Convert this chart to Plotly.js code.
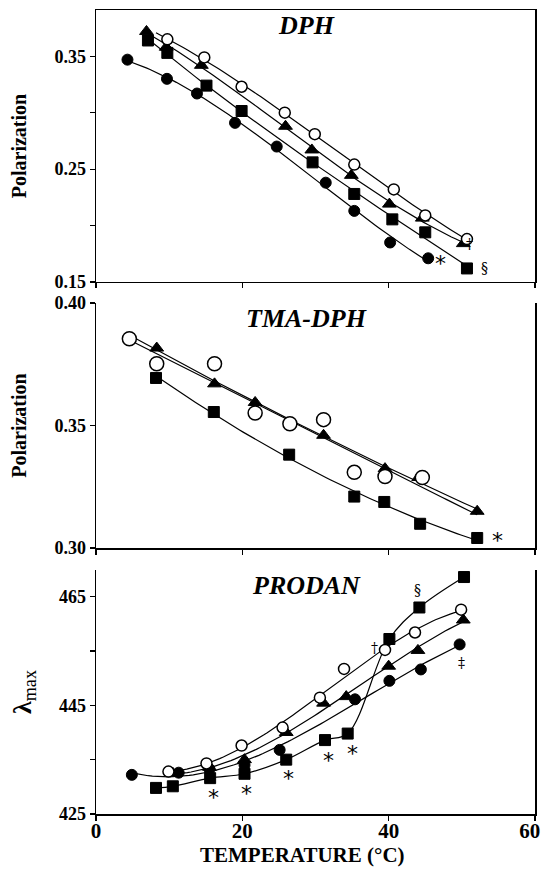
<!DOCTYPE html>
<html>
<head>
<meta charset="utf-8">
<script src="https://cdn.plot.ly/plotly-3.0.1.min.js"></script>
<style>html,body{margin:0;padding:0;background:#fff;}</style>
</head>
<body>
<div id="chart" style="width:543px;height:869px;"></div>
<script>
// ---------- DPH panel (polarization) ----------
const dphCircleX = [4.3, 9.7, 13.8, 19.0, 24.7, 31.4, 35.3, 40.2, 45.4];
const dphCircleY = [0.347, 0.330, 0.317, 0.291, 0.270, 0.238, 0.213, 0.185, 0.171];
const dphOpenX = [9.75, 14.8, 19.9, 25.8, 29.9, 35.3, 40.7, 45.0, 50.7];
const dphOpenY = [0.365, 0.349, 0.323, 0.300, 0.281, 0.254, 0.232, 0.209, 0.188];
const dphTriX = [6.9, 9.6, 14.4, 25.9, 29.5, 34.9, 40.1, 44.6, 50.2];
const dphTriY = [0.372, 0.358, 0.342, 0.288, 0.267, 0.2445, 0.219, 0.2066, 0.184];
const dphSqX = [7.1, 9.75, 15.1, 19.9, 29.6, 35.3, 40.5, 45.0, 50.7];
const dphSqY = [0.364, 0.353, 0.324, 0.3015, 0.256, 0.228, 0.2055, 0.194, 0.162];

// ---------- TMA-DPH panel (polarization) ----------
const tmaOpenX = [4.56, 8.3, 16.2, 21.75, 26.5, 31.1, 35.3, 39.5, 44.6];
const tmaOpenY = [0.3854, 0.3752, 0.3752, 0.3551, 0.3507, 0.3524, 0.3309, 0.3292, 0.3288];
const tmaTriX = [8.3, 16.2, 21.75, 31.1, 39.5, 44.1, 52.1];
const tmaTriY = [0.3816, 0.367, 0.3594, 0.346, 0.3324, 0.3288, 0.315];
const tmaSqX = [8.2, 16.1, 26.4, 35.3, 39.4, 44.3, 52.1];
const tmaSqY = [0.3694, 0.3555, 0.3381, 0.321, 0.3188, 0.3099, 0.3041];
const tmaFitEnd = 52.1;

// ---------- PRODAN panel (lambda max) ----------
const proCircleX = [4.9, 11.3, 15.5, 20.3, 25.1, 35.4, 40.1, 44.4, 49.7];
const proCircleY = [432.2, 432.6, 433.3, 434.0, 436.8, 446.1, 449.5, 451.6, 456.2];
const proOpenX = [9.9, 15.1, 19.9, 25.5, 30.6, 33.9, 39.5, 43.6, 49.9];
const proOpenY = [432.8, 434.3, 437.6, 440.9, 446.4, 451.7, 455.2, 458.4, 462.6];
const proTriX = [10.5, 15.5, 20.3, 26.0, 31.1, 34.2, 40.0, 44.0, 50.2];
const proTriY = [432.5, 433.6, 435.0, 440.0, 445.4, 446.6, 452.2, 455.1, 460.7];
const proSqX = [8.2, 10.5, 15.6, 20.3, 26.0, 31.3, 34.4, 40.1, 44.2, 50.3];
const proSqY = [429.8, 430.1, 431.6, 432.4, 435.0, 438.6, 439.8, 457.2, 463.0, 468.6];

// ---------- significance marks ----------
const dphMarkText = ['*', '\u2020', '\u00a7'];
const dphMarkX = [47.1, 51.0, 53.1];
const dphMarkY = [0.166, 0.184, 0.162];
const tmaMarkText = ['*'];
const tmaMarkX = [54.9];
const tmaMarkY = [0.3032];
const proMarkText = ['*', '*', '*', '*', '*', '\u2020', '\u00a7', '\u00a7', '\u2021'];
const proMarkX = [16.0, 20.6, 26.3, 31.8, 35.0, 38.1, 43.9, 50.2, 49.9];
const proMarkY = [428.0, 428.7, 431.5, 434.8, 436.2, 455.6, 466.3, 470.8, 452.7];

const panelTitles = ['DPH', 'TMA-DPH', 'PRODAN'];
const xTickVals = [0, 20, 40, 60];
const xTickText = ['0', '20', '40', '60\u00a0\u00a0'];
const xTitle = 'TEMPERATURE (°C)';

// ---------- helpers ----------
function polyfit(xs, ys, deg) {
  const n = deg + 1;
  const A = [], b = [];
  for (let i = 0; i < n; i++) { A.push(new Array(n).fill(0)); b.push(0); }
  for (let k = 0; k < xs.length; k++) {
    for (let i = 0; i < n; i++) {
      b[i] += ys[k] * Math.pow(xs[k], i);
      for (let j = 0; j < n; j++) A[i][j] += Math.pow(xs[k], i + j);
    }
  }
  for (let c = 0; c < n; c++) {
    let p = c;
    for (let r = c + 1; r < n; r++) if (Math.abs(A[r][c]) > Math.abs(A[p][c])) p = r;
    [A[c], A[p]] = [A[p], A[c]]; [b[c], b[p]] = [b[p], b[c]];
    for (let r = c + 1; r < n; r++) {
      const f = A[r][c] / A[c][c];
      for (let j = c; j < n; j++) A[r][j] -= f * A[c][j];
      b[r] -= f * b[c];
    }
  }
  const coef = new Array(n).fill(0);
  for (let i = n - 1; i >= 0; i--) {
    let s = b[i];
    for (let j = i + 1; j < n; j++) s -= A[i][j] * coef[j];
    coef[i] = s / A[i][i];
  }
  return coef;
}
function fitLine(xs, ys, deg, x0, x1) {
  const c = polyfit(xs, ys, deg);
  const fx = [], fy = [];
  const N = 80;
  for (let i = 0; i <= N; i++) {
    const x = x0 + (x1 - x0) * i / N;
    let y = 0;
    for (let k = 0; k < c.length; k++) y += c[k] * Math.pow(x, k);
    fx.push(x); fy.push(y);
  }
  return {fx, fy};
}

const styles = {
  circle: {symbol: 'circle', size: 11, color: 'black', line: {color: 'black', width: 1}},
  open: {symbol: 'circle', size: 11, color: 'white', line: {color: 'black', width: 1.5}},
  tri: {symbol: 'triangle-up', size: 12, color: 'black', line: {color: 'black', width: 1}},
  sq: {symbol: 'square', size: 11, color: 'black', line: {color: 'black', width: 1}}
};

const traces = [];
const lineTraces = [];
const markerTraces = [];
function addSeries(xs, ys, style, xa, ya, deg, x0, x1, spline, sizeOverride) {
  if (spline) {
    lineTraces.push({x: xs, y: ys, xaxis: xa, yaxis: ya, mode: 'lines', type: 'scatter',
      line: {color: 'black', width: 1.2, shape: 'spline', smoothing: 1}, hoverinfo: 'skip'});
  } else {
    const f = fitLine(xs, ys, deg, x0 !== undefined ? x0 : Math.min(...xs), x1 !== undefined ? x1 : Math.max(...xs));
    lineTraces.push({x: f.fx, y: f.fy, xaxis: xa, yaxis: ya, mode: 'lines', type: 'scatter',
      line: {color: 'black', width: 1.2}, hoverinfo: 'skip'});
  }
  const m = JSON.parse(JSON.stringify(styles[style]));
  if (sizeOverride) m.size = sizeOverride;
  markerTraces.push({x: xs, y: ys, xaxis: xa, yaxis: ya, mode: 'markers', type: 'scatter', marker: m, cliponaxis: false});
}

// DPH
addSeries(dphCircleX, dphCircleY, 'circle', 'x', 'y', 3);
addSeries(dphSqX, dphSqY, 'sq', 'x', 'y', 3);
addSeries(dphTriX, dphTriY, 'tri', 'x', 'y', 3);
addSeries(dphOpenX, dphOpenY, 'open', 'x', 'y', 3, 8.2);
// TMA-DPH
addSeries(tmaSqX, tmaSqY, 'sq', 'x2', 'y2', 2, undefined, 51.5);
addSeries(tmaTriX, tmaTriY, 'tri', 'x2', 'y2', 2, 4.6, tmaFitEnd);
addSeries(tmaOpenX, tmaOpenY, 'open', 'x2', 'y2', 2, undefined, tmaFitEnd, false, 14);
// PRODAN
addSeries(proCircleX, proCircleY, 'circle', 'x3', 'y3', 3);
addSeries(proSqX, proSqY, 'sq', 'x3', 'y3', 0, undefined, undefined, true);
addSeries(proTriX, proTriY, 'tri', 'x3', 'y3', 3);
addSeries(proOpenX, proOpenY, 'open', 'x3', 'y3', 3);

traces.push(...lineTraces, ...markerTraces);

const B = s => s === '' ? '' : '<b>' + s + '</b>';
const tickFont = {family: 'Liberation Serif', size: 18, color: 'black', weight: 700};
const annotations = [];
function addMarks(txt, xs, ys, xr, yr) {
  for (let i = 0; i < txt.length; i++) {
    const star = txt[i] === '*';
    annotations.push({x: xs[i], y: ys[i], xref: xr, yref: yr, text: txt[i], showarrow: false,
      font: star ? {family: 'DejaVu Sans', size: 22, color: '#000000'} : {family: 'DejaVu Serif', size: 14, color: '#000000'}});
  }
}
addMarks(dphMarkText, dphMarkX, dphMarkY, 'x', 'y');
addMarks(tmaMarkText, tmaMarkX, tmaMarkY, 'x2', 'y2');
addMarks(proMarkText, proMarkX, proMarkY, 'x3', 'y3');

const titleAnchorsY = ['y domain', 'y2 domain', 'y3 domain'];
const titleAnchorsX = ['x', 'x2', 'x3'];
panelTitles.forEach((t, i) => {
  annotations.push({x: 28.8, y: 1, xref: titleAnchorsX[i], yref: titleAnchorsY[i], yanchor: 'top', yshift: 1,
    text: '<b><i>' + t + '</i></b>', showarrow: false,
    font: {family: 'Liberation Serif', size: 26, color: 'black'}});
});
// x-axis title of the bottom panel
annotations.push({x: 28.2, y: 0, xref: 'x3', yref: 'paper', yanchor: 'bottom', yshift: -55,
  text: B(xTitle), showarrow: false, font: {family: 'Liberation Serif', size: 21, color: 'black'}});

const baseX = {range: [0, 60], tickvals: xTickVals, ticktext: xTickText.map(B), ticks: 'outside', ticklen: 5, tickwidth: 1.2, tickcolor: 'black',
  showline: true, linecolor: 'black', linewidth: 1.5, showgrid: false, zeroline: false, fixedrange: true};
const baseY = {ticks: 'outside', ticklen: 5, tickwidth: 1.2, tickcolor: 'black', showline: true, linecolor: 'black',
  linewidth: 1.5, mirror: true, showgrid: false, zeroline: false, tickfont: tickFont, fixedrange: true};
const yTitleFont = {family: 'Liberation Serif', size: 20, color: 'black'};

const layout = {
  width: 543, height: 869,
  margin: {l: 96, r: 8, t: 10, b: 55},
  paper_bgcolor: 'white', plot_bgcolor: 'white',
  showlegend: false,
  font: {family: 'Liberation Serif', color: 'black'},
  xaxis: Object.assign({}, baseX, {anchor: 'y', showticklabels: false, mirror: true}),
  yaxis: Object.assign({}, baseY, {domain: [0.6617, 1], anchor: 'x', range: [0.15, 0.391],
    tickvals: [0.15, 0.20, 0.25, 0.30, 0.35], ticktext: ['0.15', '', '0.25', '', '0.35'].map(B),
    title: {text: B('Polarization'), font: yTitleFont, standoff: 22}}),
  xaxis2: Object.assign({}, baseX, {anchor: 'y2', showticklabels: false}),
  yaxis2: Object.assign({}, baseY, {domain: [0.3308, 0.6356], anchor: 'x2', range: [0.30, 0.40],
    tickvals: [0.30, 0.35, 0.40], ticktext: ['0.30', '0.35', '0.40'].map(B),
    title: {text: B('Polarization'), font: yTitleFont, standoff: 22}}),
  xaxis3: Object.assign({}, baseX, {anchor: 'y3', showticklabels: true, ticklabelstandoff: -8,
    ticklabeloverflow: 'allow',
    tickfont: {family: 'Liberation Serif', size: 21, color: 'black', weight: 700}}),
  yaxis3: Object.assign({}, baseY, {domain: [0, 0.3035], anchor: 'x3', range: [425, 469.9],
    tickvals: [425, 435, 445, 455, 465], ticktext: ['425', '', '445', '', '465'].map(B),
    title: {text: '<b>λ</b><sub>max</sub>', font: {family: 'Liberation Serif', size: 26, color: 'black'}, standoff: 20}}),
  annotations: annotations
};

Plotly.newPlot('chart', traces, layout, {displayModeBar: false, staticPlot: true});
</script>
</body>
</html>
